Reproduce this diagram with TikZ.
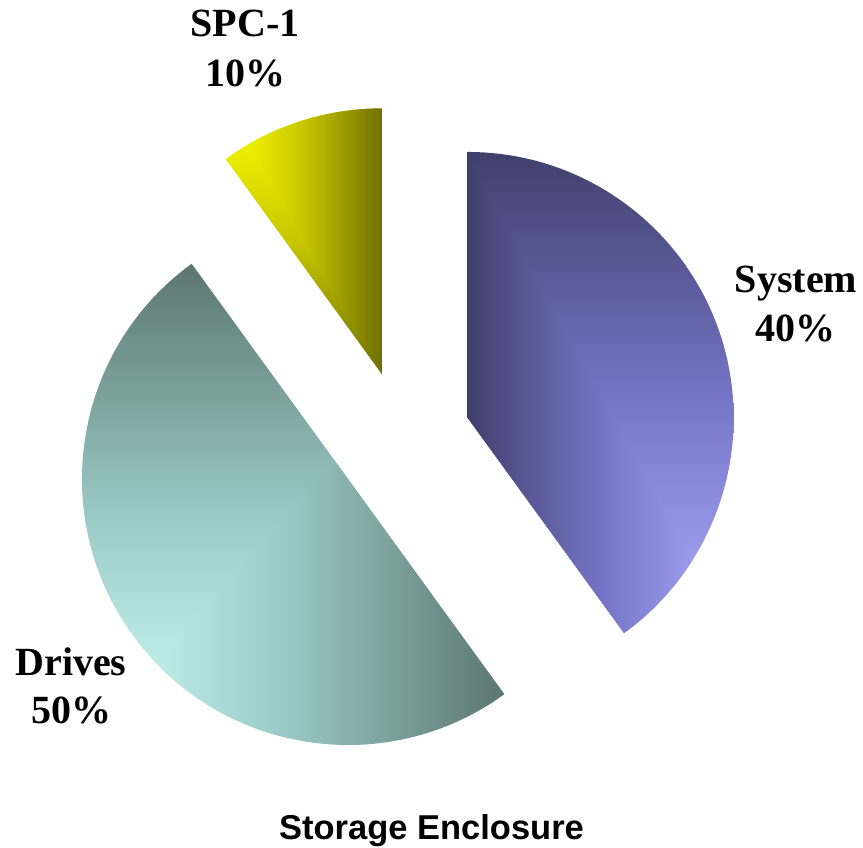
\documentclass[tikz,border=0pt]{standalone}
\usepackage{fontspec}
\setmainfont{Liberation Serif}
\newfontfamily\captionsans{Liberation Sans}
\usetikzlibrary{calc}

% slice colours: light near corner, middle, dark far edge
\definecolor{sysdark}{RGB}{64,64,108}
\definecolor{sysmid}{RGB}{116,116,198}
\definecolor{syslight}{RGB}{172,172,255}
\definecolor{drvdark}{RGB}{92,118,114}
\definecolor{drvmid}{RGB}{152,198,194}
\definecolor{drvlight}{RGB}{210,255,252}
\definecolor{spcdark}{RGB}{112,112,0}
\definecolor{spcmid}{RGB}{198,198,0}
\definecolor{spclight}{RGB}{255,255,0}

\begin{document}
\begin{tikzpicture}[x=1pt,y=1pt,
  pctlabel/.style={font=\fontsize{40}{48}\selectfont\bfseries, inner sep=0pt, anchor=base},
  captionlabel/.style={font=\captionsans\fontsize{34.5}{40}\selectfont\bfseries, inner sep=0pt, anchor=base}]
\useasboundingbox (0,0) rectangle (863,848);

\def\R{266}
\coordinate (c) at (403,409);
% exploded apexes of the three slices
\coordinate (sysapex) at ($(c)+(18:68)$);
\coordinate (drvapex) at ($(c)+(-144:68)$);
\coordinate (spcapex) at ($(c)+(108:68)$);

% System 40%
\begin{scope}
  \clip (sysapex) -- ++(90:\R) arc[start angle=90, end angle=-54, radius=\R] -- cycle;
  \shade[top color=sysdark, bottom color=syslight, middle color=sysmid] (467.67,214.81) rectangle (733.67,696.01);
  \shade[left color=sysdark, right color=syslight, middle color=sysmid] (733.67,214.81) -- (467.67,214.81) -- (467.67,696.01) -- cycle;
\end{scope}

% Drives 50%
\begin{scope}
  \clip (drvapex) -- ++(-54:\R) arc[start angle=-54, end angle=-234, radius=\R] -- cycle;
  \shade[top color=drvdark, bottom color=drvlight, middle color=drvmid] (81.99,103.03) rectangle (504.34,584.23);
  \shade[left color=drvlight, right color=drvdark, middle color=drvmid] (81.99,103.03) -- (504.34,103.03) -- (504.34,584.23) -- cycle;
\end{scope}

% SPC-1 10%
\begin{scope}
  \clip (spcapex) -- ++(126:\R) arc[start angle=126, end angle=90, radius=\R] -- cycle;
  \shade[top color=spclight, bottom color=spcdark, middle color=spcmid] (225.64,473.67) rectangle (381.99,739.67);
  \shade[left color=spclight, right color=spcdark, middle color=spcmid] (225.64,739.67) -- (381.99,739.67) -- (381.99,473.67) -- cycle;
\end{scope}

% labels
\node[pctlabel] (spcname) at (245,811) {SPC-1};
\node[pctlabel] (spcpct)  at (245,761) {10\%};
\node[pctlabel] (sysname) at (796,555) {System};
\node[pctlabel] (syspct)  at (795,506) {40\%};
\node[pctlabel] (drvname) at (71,172) {Drives};
\node[pctlabel] (drvpct)  at (71.5,124) {50\%};
\node[captionlabel] (caption) at (431.5,8) {Storage Enclosure};
\end{tikzpicture}
\end{document}
